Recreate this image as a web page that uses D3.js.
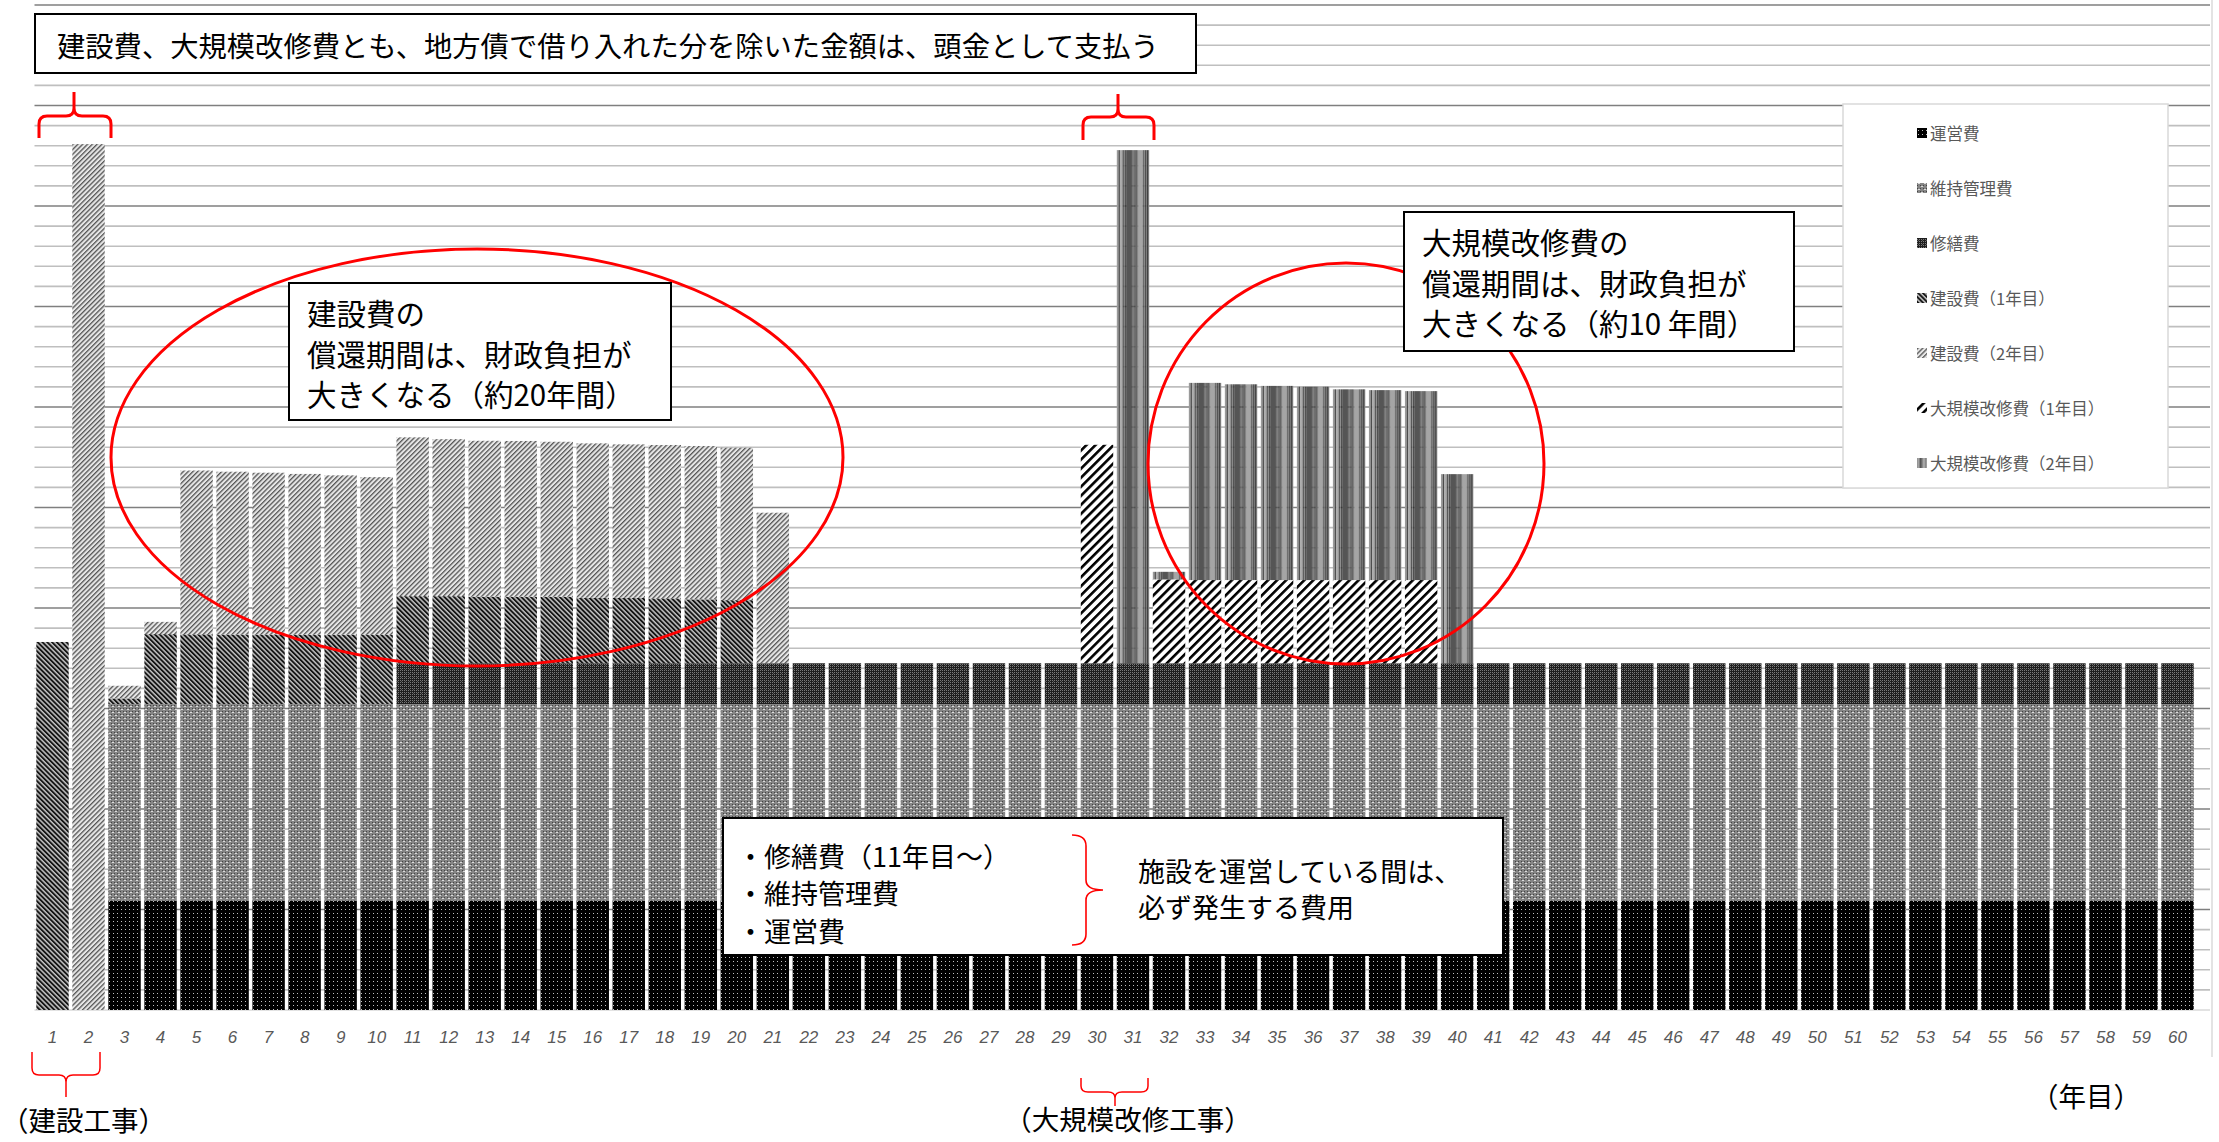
<!DOCTYPE html>
<html><head><meta charset="utf-8">
<script src="https://cdn.jsdelivr.net/npm/d3@7"></script>
<style>
html,body{margin:0;padding:0;background:#fff;}
svg{display:block;}
</style></head><body>
<svg id="chart" width="2219" height="1142"></svg>
<script>
// ---- data: yearly cost components (arbitrary units) ----
const years = [
  1,2,3,4,5,6,7,8,9,10,11,12,13,14,15,16,17,18,19,20,
  21,22,23,24,25,26,27,28,29,30,31,32,33,34,35,36,37,38,39,40,
  41,42,43,44,45,46,47,48,49,50,51,52,53,54,55,56,57,58,59,60
];
const seriesKeys = ["運営費","維持管理費","修繕費","建設費（1年目）","建設費（2年目）","大規模改修費（1年目）","大規模改修費（2年目）"];

const operating = [
  0,0,5.44,5.44,5.44,5.44,5.44,5.44,5.44,5.44,
  5.44,5.44,5.44,5.44,5.44,5.44,5.44,5.44,5.44,5.44,
  5.44,5.44,5.44,5.44,5.44,5.44,5.44,5.44,5.44,5.44,
  5.44,5.44,5.44,5.44,5.44,5.44,5.44,5.44,5.44,5.44,
  5.44,5.44,5.44,5.44,5.44,5.44,5.44,5.44,5.44,5.44,
  5.44,5.44,5.44,5.44,5.44,5.44,5.44,5.44,5.44,5.44
];
const maintenance = [
  0,0,9.78,9.78,9.78,9.78,9.78,9.78,9.78,9.78,
  9.78,9.78,9.78,9.78,9.78,9.78,9.78,9.78,9.78,9.78,
  9.78,9.78,9.78,9.78,9.78,9.78,9.78,9.78,9.78,9.78,
  9.78,9.78,9.78,9.78,9.78,9.78,9.78,9.78,9.78,9.78,
  9.78,9.78,9.78,9.78,9.78,9.78,9.78,9.78,9.78,9.78,
  9.78,9.78,9.78,9.78,9.78,9.78,9.78,9.78,9.78,9.78
];
const repair = [
  0,0,0,0,0,0,0,0,0,0,
  2.03,2.03,2.03,2.03,2.03,2.03,2.03,2.03,2.03,2.03,
  2.03,2.03,2.03,2.03,2.03,2.03,2.03,2.03,2.03,2.03,
  2.03,2.03,2.03,2.03,2.03,2.03,2.03,2.03,2.03,2.03,
  2.03,2.03,2.03,2.03,2.03,2.03,2.03,2.03,2.03,2.03,
  2.03,2.03,2.03,2.03,2.03,2.03,2.03,2.03,2.03,2.03
];
const construction1 = [
  18.31,0,0.28,3.48,3.47,3.46,3.46,3.45,3.45,3.44,
  3.34,3.34,3.31,3.31,3.31,3.26,3.26,3.23,3.18,3.14,
  0,0,0,0,0,0,0,0,0,0,
  0,0,0,0,0,0,0,0,0,0,
  0,0,0,0,0,0,0,0,0,0,
  0,0,0,0,0,0,0,0,0,0
];
const construction2 = [
  0,43.08,0.63,0.61,8.15,8.1,8.05,8.0,7.93,7.85,
  7.9,7.81,7.76,7.75,7.71,7.68,7.63,7.63,7.63,7.58,
  7.49,0,0,0,0,0,0,0,0,0,
  0,0,0,0,0,0,0,0,0,0,
  0,0,0,0,0,0,0,0,0,0,
  0,0,0,0,0,0,0,0,0,0
];
const renewal1 = [
  0,0,0,0,0,0,0,0,0,0,
  0,0,0,0,0,0,0,0,0,0,
  0,0,0,0,0,0,0,0,0,10.87,
  0,4.17,4.14,4.14,4.14,4.14,4.14,4.14,4.14,0,
  0,0,0,0,0,0,0,0,0,0,
  0,0,0,0,0,0,0,0,0,0
];
const renewal2 = [
  0,0,0,0,0,0,0,0,0,0,
  0,0,0,0,0,0,0,0,0,0,
  0,0,0,0,0,0,0,0,0,0,
  25.53,0.38,9.81,9.74,9.66,9.62,9.49,9.45,9.40,9.41,
  0,0,0,0,0,0,0,0,0,0,
  0,0,0,0,0,0,0,0,0,0
];
const seriesValues = [operating, maintenance, repair, construction1, construction2, renewal1, renewal2];

// annotation texts
const headNote = "建設費、大規模改修費とも、地方債で借り入れた分を除いた金額は、頭金として支払う";
const constructionNote = ["建設費の", "償還期間は、財政負担が", "大きくなる（約20年間）"];
const renewalNote = ["大規模改修費の", "償還期間は、財政負担が", "大きくなる（約10 年間）"];
const runningItems = ["・修繕費（11年目～）", "・維持管理費", "・運営費"];
const runningNote = ["施設を運営している間は、", "必ず発生する費用"];
const periodLabels = ["（建設工事）", "（大規模改修工事）", "（年目）"];

// ---- table for the stack layout ----
const table = years.map((yr, i) => {
  const row = { year: yr };
  seriesKeys.forEach((k, j) => { row[k] = seriesValues[j][i]; });
  return row;
});
const stacked = d3.stack().keys(seriesKeys)(table);

const svg = d3.select("#chart");
const x = d3.scaleBand().domain(years).range([34.5, 2195.5]).paddingInner(0.1).paddingOuter(0.05);
const y = d3.scaleLinear().domain([0, 50]).range([1010, 5]);

// ---- fill patterns ----
const defs = svg.append("defs");
const patternIds = ["pOps","pMaint","pRepair","pCon1","pCon2","pRen1","pRen2"];

// operating cost: black with white dots
{
  const p = defs.append("pattern").attr("id","pOps").attr("patternUnits","userSpaceOnUse").attr("width",4).attr("height",4);
  p.append("rect").attr("width",4).attr("height",4).attr("fill","#000");
  p.append("rect").attr("x",1).attr("y",1).attr("width",1).attr("height",1).attr("fill","#fff").attr("opacity",0.75);
}
// maintenance: mottled mid gray
{
  const p = defs.append("pattern").attr("id","pMaint").attr("patternUnits","userSpaceOnUse").attr("width",6).attr("height",6);
  p.append("rect").attr("width",6).attr("height",6).attr("fill","#858585");
  [[0,0],[3,0],[0,3],[3,3]].forEach(([a,b]) => p.append("rect").attr("x",a).attr("y",b).attr("width",1).attr("height",1).attr("fill","#444"));
  [[1,1],[4,4]].forEach(([a,b]) => p.append("rect").attr("x",a).attr("y",b).attr("width",2).attr("height",1).attr("fill","#dcdcdc"));
}
// repair: dark checker
{
  const p = defs.append("pattern").attr("id","pRepair").attr("patternUnits","userSpaceOnUse").attr("width",4).attr("height",4);
  p.append("rect").attr("width",4).attr("height",4).attr("fill","#1e1e1e");
  [[0,0],[2,2],[2,0],[0,2]].forEach(([a,b]) => p.append("rect").attr("x",a).attr("y",b).attr("width",1).attr("height",1).attr("fill","#7a7a7a"));
  p.append("rect").attr("x",1).attr("y",1).attr("width",1).attr("height",1).attr("fill","#555");
}
// construction year 1: dense dark "\" hatch
{
  const p = defs.append("pattern").attr("id","pCon1").attr("patternUnits","userSpaceOnUse").attr("width",3.4).attr("height",10).attr("patternTransform","rotate(-45)");
  p.append("rect").attr("width",3.4).attr("height",10).attr("fill","#c4c4c4");
  p.append("rect").attr("width",1.9).attr("height",10).attr("fill","#151515");
}
// construction year 2: lighter "/" hatch
{
  const p = defs.append("pattern").attr("id","pCon2").attr("patternUnits","userSpaceOnUse").attr("width",3.4).attr("height",10).attr("patternTransform","rotate(45)");
  p.append("rect").attr("width",3.4).attr("height",10).attr("fill","#e6e6e6");
  p.append("rect").attr("width",1.3).attr("height",10).attr("fill","#555");
}
// renewal year 1: bold black "/" hatch on white
{
  const p = defs.append("pattern").attr("id","pRen1").attr("patternUnits","userSpaceOnUse").attr("width",6.4).attr("height",10).attr("patternTransform","rotate(45)");
  p.append("rect").attr("width",6.4).attr("height",10).attr("fill","#fff");
  p.append("rect").attr("width",2.6).attr("height",10).attr("fill","#000");
}
// renewal year 2: vertical gray stripes across each bar
{
  const p = defs.append("pattern").attr("id","pRen2").attr("patternUnits","objectBoundingBox").attr("patternContentUnits","objectBoundingBox").attr("width",1).attr("height",1);
  const cols = [[0,2,"#9a9a9a"],[2,1,"#333"],[3,3,"#aaa"],[6,1,"#222"],[7,1,"#999"],[8,1,"#111"],[9,6,"#555"],[15,1,"#222"],[16,1,"#888"],[17,1,"#111"],[18,3,"#666"],[21,5,"#a5a5a5"],[26,1,"#222"],[27,1,"#aaa"],[28,1,"#111"],[29,1,"#999"],[30,1,"#1a1a1a"],[31,1,"#999"]];
  cols.forEach(([a,w,c]) => p.append("rect").attr("x",a/32).attr("width",w/32).attr("y",0).attr("height",1).attr("fill",c));
}

// ---- gridlines ----
const grid = svg.append("g");
grid.selectAll("line").data(d3.range(1, 51)).join("line")
  .attr("x1", 34.5).attr("x2", 2210)
  .attr("y1", d => y(d)).attr("y2", d => y(d))
  .attr("stroke", d => d % 5 === 0 ? "#7f7f7f" : "#bfbfbf")
  .attr("stroke-width", 1.6);
svg.append("line").attr("x1",34.5).attr("x2",2210).attr("y1",y(0)).attr("y2",y(0)).attr("stroke","#d9d9d9").attr("stroke-width",1.5);

// ---- stacked bars ----
svg.append("g").selectAll("g").data(stacked).join("g")
  .attr("fill", (d, i) => `url(#${patternIds[i]})`)
  .selectAll("rect").data(d => d.filter(s => s[1] - s[0] > 0)).join("rect")
  .attr("x", d => x(d.data.year))
  .attr("width", x.bandwidth())
  .attr("y", d => y(d[1]))
  .attr("height", d => y(d[0]) - y(d[1]));

// ---- category axis ----
const axis = svg.append("g").attr("transform", `translate(0,${y(0)})`)
  .call(d3.axisBottom(x).tickSize(0).tickPadding(21));
axis.select(".domain").remove();
axis.selectAll("text")
  .attr("font-family", "'Liberation Sans', Arial, sans-serif")
  .attr("font-size", 17).attr("font-style", "italic").attr("fill", "#595959");

// right border line
svg.append("line").attr("x1",2212).attr("x2",2212).attr("y1",0).attr("y2",1057).attr("stroke","#d0d0d0").attr("stroke-width",1.2);

const jp = "'Noto Sans CJK JP', 'Noto Sans', sans-serif";

// ---- red ellipses ----
svg.append("ellipse").attr("cx",477).attr("cy",457.5).attr("rx",366).attr("ry",208.5)
  .attr("fill","none").attr("stroke","#ff0000").attr("stroke-width",3);
svg.append("ellipse").attr("cx",1346).attr("cy",463.5).attr("rx",198).attr("ry",200.5)
  .attr("fill","none").attr("stroke","#ff0000").attr("stroke-width",3);

// ---- callout boxes ----
function box(x0, y0, w, h, lines, tx, ty, lh, fs) {
  const g = svg.append("g");
  g.append("rect").attr("x",x0).attr("y",y0).attr("width",w).attr("height",h)
    .attr("fill","#fff").attr("stroke","#000").attr("stroke-width",2);
  g.selectAll("text").data(lines).join("text")
    .attr("x", tx).attr("y", (d,i) => ty + i*lh)
    .attr("dominant-baseline","central")
    .attr("font-family", jp).attr("font-size", fs).attr("fill","#000")
    .text(d => d);
  return g;
}
box(35, 14, 1161, 59, [headNote], 57, 44, 0, 28.3);
box(289, 283, 382, 137, constructionNote, 307, 312, 40.5, 29.5);
box(1404, 212, 390, 139, renewalNote, 1422, 241, 40.5, 29.5);
const rb = box(723, 818, 780, 137, runningItems, 737, 855, 37.5, 27);
rb.append("g").selectAll("text").data(runningNote).join("text")
  .attr("x", 1138).attr("y", (d,i) => 870 + i*36)
  .attr("dominant-baseline","central")
  .attr("font-family", jp).attr("font-size", 27).attr("fill","#000")
  .text(d => d);
svg.append("path")
  .attr("d","M1072,835 Q1086,835 1086,846 L1086,880 Q1086,890 1103,890 Q1086,890 1086,900 L1086,934 Q1086,945 1072,945")
  .attr("fill","none").attr("stroke","#ff0000").attr("stroke-width",1.6);

// ---- legend ----
const lg = svg.append("g");
lg.append("rect").attr("x",1843).attr("y",104).attr("width",325).attr("height",384)
  .attr("fill","#fff").attr("stroke","#d9d9d9").attr("stroke-width",1.5);
const li = lg.selectAll("g.item").data(seriesKeys).join("g").attr("class","item")
  .attr("transform", (d,i) => `translate(1917,${133 + i*55})`);
li.append("rect").attr("x",0).attr("y",-5).attr("width",10).attr("height",10)
  .attr("fill", (d,i) => `url(#${patternIds[i]})`);
li.append("text").attr("x",13).attr("y",0).attr("dominant-baseline","central")
  .attr("font-family", jp).attr("font-size",16.5).attr("fill","#595959").text(d => d);

// ---- braces ----
const red = "#ff0000";
svg.append("path").attr("d","M39,138 L39,124 Q39,116 47,116 L66,116 Q74,116 74,108 L74,92 M74,108 Q74,116 82,116 L103,116 Q111,116 111,124 L111,138")
  .attr("fill","none").attr("stroke",red).attr("stroke-width",3);
svg.append("path").attr("d","M1083,140 L1083,125 Q1083,117 1091,117 L1110,117 Q1118,117 1118,109 L1118,94 M1118,109 Q1118,117 1126,117 L1146,117 Q1154,117 1154,125 L1154,140")
  .attr("fill","none").attr("stroke",red).attr("stroke-width",3);
svg.append("path").attr("d","M32,1052 L32,1068 Q32,1075 39,1075 L59,1075 Q66,1075 66,1082 L66,1097 M66,1082 Q66,1075 73,1075 L93,1075 Q100,1075 100,1068 L100,1052")
  .attr("fill","none").attr("stroke",red).attr("stroke-width",1.5);
svg.append("path").attr("d","M1081,1078 L1081,1086 Q1081,1092 1088,1092 L1108,1092 Q1115,1092 1115,1098 L1115,1106 M1115,1098 Q1115,1092 1122,1092 L1141,1092 Q1148,1092 1148,1086 L1148,1078")
  .attr("fill","none").attr("stroke",red).attr("stroke-width",1.5);

// ---- period labels ----
svg.selectAll("text.period").data(periodLabels).join("text").attr("class","period")
  .attr("x", (d,i) => [1, 1128, 2086][i])
  .attr("y", (d,i) => [1119, 1118, 1095][i])
  .attr("text-anchor", (d,i) => i === 0 ? "start" : "middle")
  .attr("dominant-baseline","central")
  .attr("font-family", jp).attr("font-size", 27.5).attr("fill","#000")
  .text(d => d);
</script>
</body></html>
